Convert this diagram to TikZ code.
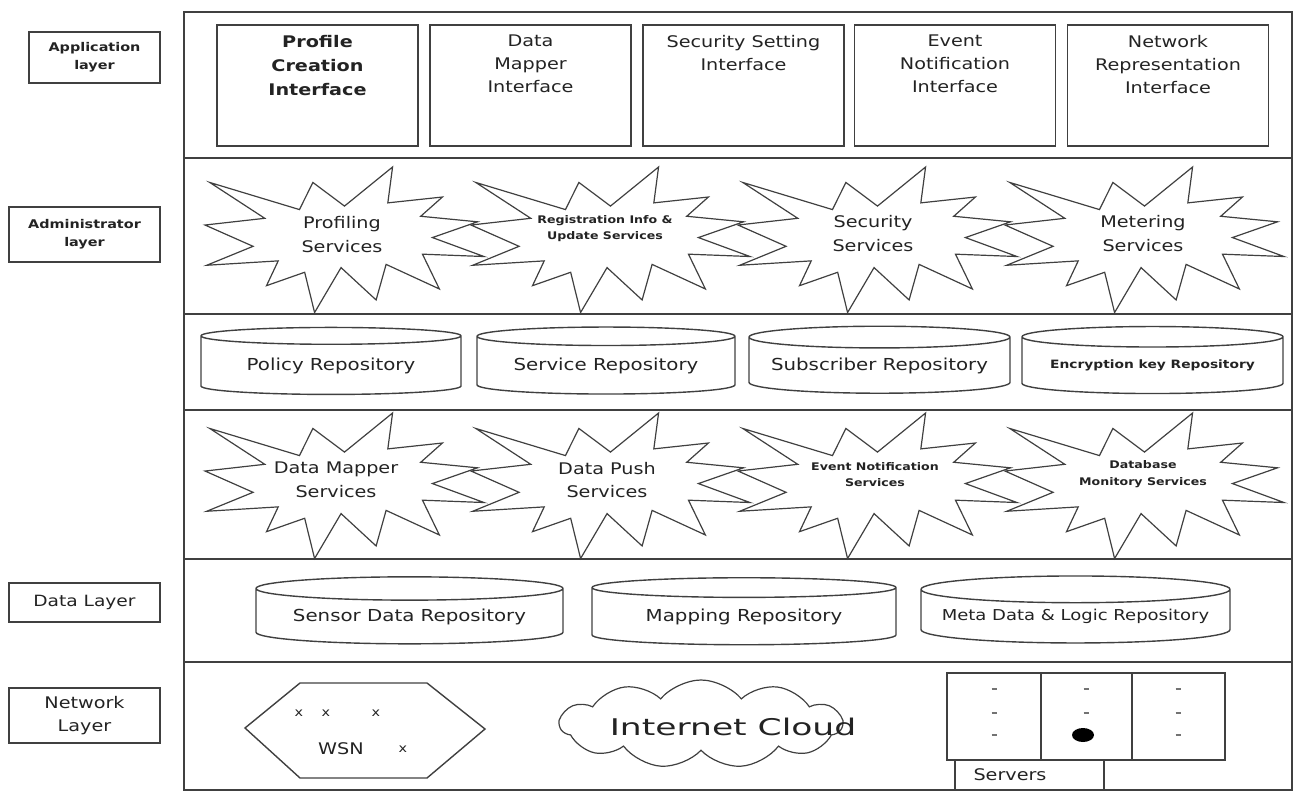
\documentclass[tikz,border=0pt]{standalone}
\usepackage{fontspec}
\setmainfont{DejaVu Sans}[FakeStretch=1.2]
\newfontfamily\cloudfont{DejaVu Sans}[FakeStretch=1.5]
\usetikzlibrary{positioning,shapes.geometric,shapes.symbols}
\definecolor{lineink}{RGB}{64,64,64}
\definecolor{textink}{RGB}{35,35,35}

\begin{document}
\begin{tikzpicture}[x=1pt,y=-1pt,color=lineink,text=textink,line width=1.4pt,
    lyrlabel/.style={draw, minimum width=151pt, inner sep=0pt, align=center},
    appbox/.style={draw, minimum width=201pt, minimum height=121pt},
    apptext/.style={font=\fontsize{16}{23}\selectfont, align=center, inner sep=0pt},
    burst/.style={line width=1.2pt, line join=miter},
    bigtag/.style={font=\fontsize{16}{23.5}\selectfont, align=center, inner sep=0pt},
    smalltag/.style={font=\bfseries\fontsize{10.5}{16.5}\selectfont, align=center, inner sep=0pt},
    repo/.style={cylinder, shape border rotate=90, draw, aspect=0.1, minimum height=67pt,
      inner sep=0pt, font=\fontsize{16.5}{20}\selectfont},
    srvcol/.style={draw, minimum height=87pt, inner sep=0pt},
    srvtick/.style={line width=1.4pt, black!55},
  ]
  \useasboundingbox (0,0) rectangle (1295,792);

  % layer frame
  \draw (184,12) rectangle (1292,790);
  \foreach \ly in {158,314,410,559,662}
    \draw (184,\ly) -- (1292,\ly);

  % layer names on the left
  \node[lyrlabel, minimum width=131pt, minimum height=51pt, font=\bfseries\fontsize{12}{18}\selectfont] (applbl) at (94.5,57.5) {Application\\layer};
  \node[lyrlabel, minimum height=55pt, font=\bfseries\fontsize{12}{18}\selectfont] (adminlbl) at (84.5,234.5) {Administrator\\layer};
  \node[lyrlabel, minimum height=39pt, font=\fontsize{15.5}{18}\selectfont] (datalbl) at (84.5,602.5) {Data Layer};
  \node[lyrlabel, minimum height=55pt, font=\fontsize{16}{23}\selectfont] (netlbl) at (84.5,715.5) {Network\\Layer};

  % application layer
  \node[appbox] (app1) at (317.5,85.5) {};
  \node[appbox] (app2) at (530.5,85.5) {};
  \node[appbox] (app3) at (743.5,85.5) {};
  \node[appbox] (app4) at (955,85.5) {};
  \node[appbox] (app5) at (1168,85.5) {};
  \node[apptext, font=\bfseries\fontsize{16}{24}\selectfont, below=10pt of app1.north] (app1txt) {Profile\\Creation\\Interface};
  \node[apptext, below=10pt of app2.north] (app2txt) {Data\\Mapper\\Interface};
  \node[apptext, below=10pt of app3.north] (app3txt) {Security Setting\\Interface};
  \node[apptext, below=10pt of app4.north] (app4txt) {Event\\Notification\\Interface};
  \node[apptext, below=10pt of app5.north] (app5txt) {Network\\Representation\\Interface};

  % explosions, two rows of services
  \foreach \bx in {205,471,738,1005}
    \foreach \by in {167,413}
      \draw[burst, shift={(\bx,\by)}, x=2.79pt, y=-1.455pt]
        (50,26.85) -- (67.23,0) -- (65.53,24.65) -- (85.09,20.63) -- (77.32,33.86)
        -- (97.67,37.67) -- (81.51,48.50) -- (100,61.53) -- (77.95,59.92) -- (84,83.82)
        -- (64.91,66.93) -- (61.33,91.38) -- (48.76,69.14) -- (39.28,100) -- (35.72,72.35)
        -- (22.05,81.56) -- (26.24,64.52) -- (0.63,67.53) -- (17.23,54.51) -- (0,39.88)
        -- (21.42,35.26) -- (1.71,10.63) -- (33.85,29.26) -- (38.67,10.63) -- cycle;

  \node[bigtag] (profsrv) at (342,234.5) {Profiling\\Services};
  \node[smalltag] (regsrv) at (605,228.5) {Registration Info \&\\Update Services};
  \node[bigtag] (secsrv) at (873,233.5) {Security\\Services};
  \node[bigtag] (metsrv) at (1143,233.5) {Metering\\Services};
  \node[bigtag] (dmapsrv) at (336,480) {Data Mapper\\Services};
  \node[bigtag] (dpushsrv) at (607,480) {Data Push\\Services};
  \node[smalltag] (evtsrv) at (875,474.5) {Event Notification\\Services};
  \node[smalltag] (dbsrv) at (1143,474) {Database\\Monitory Services};

  % repositories
  \node[repo, minimum width=260pt] (policy) at (331,365.5) {Policy Repository};
  \node[repo, minimum width=258pt] (service) at (606,365.5) {Service Repository};
  \node[repo, minimum width=261pt] (subscr) at (879.5,365.5) {Subscriber Repository};
  \node[repo, minimum width=261pt, font=\bfseries\fontsize{11.5}{14}\selectfont] (enckey) at (1152.5,365.5) {Encryption key Repository};

  % data layer
  \node[repo, minimum width=307pt] (sensor) at (409.5,616.5) {Sensor Data Repository};
  \node[repo, minimum width=304pt] (mapping) at (744,616.5) {Mapping Repository};
  \node[repo, minimum width=309pt, font=\fontsize{15}{18}\selectfont] (metadata) at (1075.5,616.5) {Meta Data \& Logic Repository};

  % network layer
  \draw (245,728) -- (300,683) -- (427,683) -- (485,729) -- (427,778) -- (300,778) -- cycle;
  \node[font=\fontsize{16}{16}\selectfont, inner sep=0pt] (wsn) at (341,749) {WSN};
  \foreach \mx/\my in {299/713,326/713,376/713,403/749}
    \node[font=\fontsize{12}{12}\selectfont, inner sep=0pt] (mote\mx) at (\mx,\my) {x};

  \node[cloud, draw, line width=1.2pt, cloud puffs=11, cloud puff arc=100, cloud ignores aspect,
    minimum width=282pt, minimum height=88pt, inner sep=0pt] (inetcloud) at (701,724) {};
  \node[font=\cloudfont\fontsize{23}{26}\selectfont, inner sep=0pt] (inettxt) at (733,727) {Internet Cloud};

  \node[srvcol, minimum width=94pt] (srv1) at (994,716.5) {};
  \node[srvcol, minimum width=91pt] (srv2) at (1086.5,716.5) {};
  \node[srvcol, minimum width=93pt] (srv3) at (1178.5,716.5) {};
  \node[draw, minimum width=149pt, minimum height=30pt, inner sep=0pt] (srvlbl) at (1029.5,775) {};
  \node[font=\fontsize{16}{16}\selectfont, inner sep=0pt] (srvtxt) at (1010,775) {Servers};
  \foreach \sx in {994,1086,1178}
    \foreach \sy in {689,713}
      \draw[srvtick] (\sx-2.5,\sy) -- (\sx+2.5,\sy);
  \draw[srvtick] (991.5,735) -- (996.5,735);
  \draw[srvtick] (1175.5,735) -- (1180.5,735);
  \fill[black] (1083,735) ellipse [x radius=11pt, y radius=7pt];
\end{tikzpicture}
\end{document}
